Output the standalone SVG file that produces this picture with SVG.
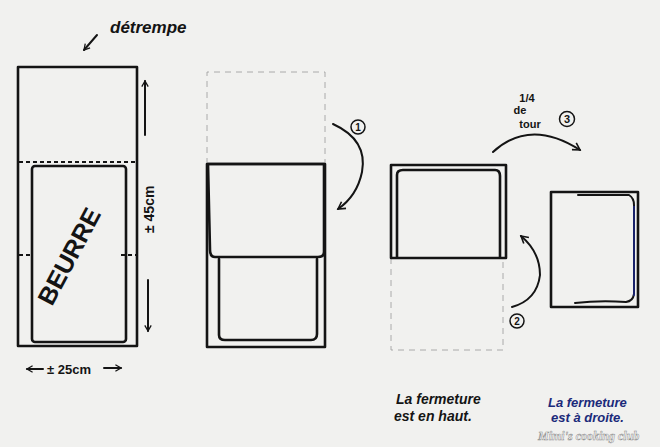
<svg xmlns="http://www.w3.org/2000/svg" width="660" height="447" viewBox="0 0 660 447">
<defs>
<style>
.s{fill:none;stroke:#141414;stroke-width:2.6;stroke-linejoin:round;stroke-linecap:round}
.t{fill:none;stroke:#141414;stroke-width:2;stroke-linecap:round;stroke-linejoin:round}
.d{fill:none;stroke:#9a9a9a;stroke-width:0.8;stroke-dasharray:6 5}
.bd{fill:none;stroke:#141414;stroke-width:2;stroke-dasharray:4 3}
.h{font-family:"Liberation Sans",Arial,sans-serif;font-weight:bold;fill:#141414}
.b{font-family:"Liberation Sans",Arial,sans-serif;font-weight:bold;fill:#1b2a7a}
</style>
<marker id="ah" viewBox="0 0 10 10" refX="8" refY="5" markerWidth="8" markerHeight="8" orient="auto" markerUnits="userSpaceOnUse">
<path d="M1,1 L8,5 L1,9" fill="none" stroke="#141414" stroke-width="1.6"/>
</marker>
<marker id="ah2" viewBox="0 0 10 10" refX="8" refY="5" markerWidth="10" markerHeight="10" orient="auto" markerUnits="userSpaceOnUse">
<path d="M1,1 L8,5 L1,9" fill="none" stroke="#141414" stroke-width="1.6"/>
</marker>
</defs>
<rect width="660" height="447" fill="#f1f1ef"/>

<g id="panel1">
<rect class="s" x="18" y="67" width="119" height="279"/>
<line class="bd" x1="19" y1="162" x2="136" y2="162"/>
<line class="bd" x1="19" y1="255" x2="32" y2="255"/>
<line class="bd" x1="121" y1="255" x2="136" y2="255"/>
<rect class="s" x="32" y="166" width="94" height="176" rx="3"/>
<text class="h" font-size="25" transform="translate(52,307) rotate(-62)">BEURRE</text>
<text class="h" font-size="17" font-style="italic" x="110" y="33">détrempe</text>
</g>

<g id="dims">
<text class="h" font-size="14" transform="translate(154,233) rotate(-90)">± 45cm</text>
<text class="h" font-size="13" x="47" y="374">± 25cm</text>
</g>

<g id="panel2">
<path class="d" d="M207,164 V72 H325 V164"/>
<rect class="s" x="207" y="164" width="118" height="183"/>
<path class="s" d="M208,164 H324 V252 Q324,257 318,257 H215 Q210,257 210,250 Z"/>
<path class="s" d="M219,259 V335 Q219,340 225,340 H311 Q317,340 317,334 V259"/>
</g>

<g id="panel3">
<path class="d" d="M391,258 V350 H503 V258"/>
<rect class="s" x="391" y="165" width="115" height="93"/>
<path class="s" d="M397,257 V175 Q397,170 403,170 H495 Q500,170 500,176 V257"/>
</g>

<g id="panel4">
<rect class="s" x="551" y="192" width="87" height="115"/>
<path class="t" d="M578,195 H629 Q634,198 634,205 V294 Q633,301 626,302 Q600,300 575,303"/>
<path fill="none" stroke="#1b2a9a" stroke-width="1.3" d="M634,206 V296"/>
</g>

<g id="connectors">
<line class="t" x1="97" y1="35" x2="84" y2="50" marker-end="url(#ah)"/>
<line class="t" x1="145" y1="135" x2="145" y2="81" marker-end="url(#ah)"/>
<line class="t" x1="148" y1="280" x2="148" y2="331" marker-end="url(#ah)"/>
<line class="t" x1="43" y1="369" x2="27" y2="369" marker-end="url(#ah)"/>
<line class="t" x1="104" y1="368" x2="121" y2="368" marker-end="url(#ah)"/>
<path class="t" d="M333,124 Q368,140 362,172 Q357,196 338,209" marker-end="url(#ah2)"/>
<path class="t" d="M512,307 Q537,300 540,275 Q540,252 521,236" marker-end="url(#ah2)"/>
<path class="t" d="M493,152 Q530,118 580,150" marker-end="url(#ah2)"/>
</g>

<g id="labels">
<circle cx="358" cy="127" r="7" fill="none" stroke="#141414" stroke-width="1.5"/>
<text class="h" font-size="10" x="358" y="130.5" text-anchor="middle">1</text>
<circle cx="517" cy="321" r="7" fill="none" stroke="#141414" stroke-width="1.5"/>
<text class="h" font-size="10" x="517" y="324.5" text-anchor="middle">2</text>
<circle cx="567" cy="119" r="7.5" fill="none" stroke="#141414" stroke-width="1.5"/>
<text class="h" font-size="11" x="567" y="123" text-anchor="middle">3</text>
<text class="h" font-size="11" x="527" y="102" text-anchor="middle">1/4</text>
<text class="h" font-size="11" x="520" y="114" text-anchor="middle">de</text>
<text class="h" font-size="11" x="530" y="128" text-anchor="middle">tour</text>
<text class="h" font-size="14" font-style="italic" x="396" y="404">La fermeture</text>
<text class="h" font-size="14" font-style="italic" x="394" y="421">est en haut.</text>
<text class="b" font-size="13" font-style="italic" x="548" y="407">La fermeture</text>
<text class="b" font-size="13" font-style="italic" x="551" y="422">est à droite.</text>
<text font-family="'Liberation Serif',serif" font-style="italic" font-weight="bold" font-size="12" x="538" y="440" fill="#ffffff" stroke="#8a8a8a" stroke-width="0.5">Mimi's cooking club</text>
</g>
</svg>
